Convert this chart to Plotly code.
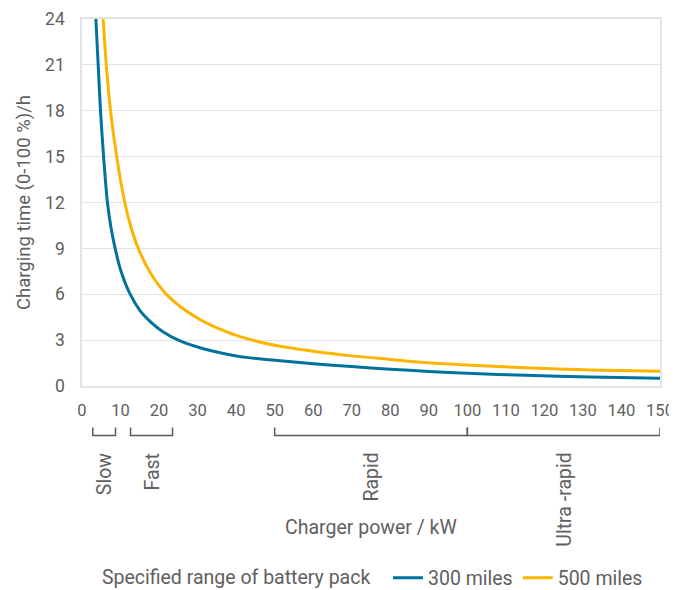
import plotly.graph_objects as go

# ---- data ----
power_300 = [3.6, 4.2, 4.8, 5.6, 6.6, 7.5, 8.6, 10, 12.3, 15, 18, 21, 25, 30, 35, 41, 50, 60, 70, 80, 90, 100, 115, 132, 150]
time_300 = [24, 21, 18, 15, 12, 10.4, 9.0, 7.6, 6.1, 4.95, 4.15, 3.55, 3.0, 2.55, 2.22, 1.92, 1.68, 1.46, 1.27, 1.10, 0.95, 0.83, 0.70, 0.59, 0.51]

power_500 = [5.5, 6.3, 7.4, 9.0, 11.1, 12.7, 14.6, 17.5, 21.5, 26, 30.6, 35, 41, 50, 60, 70, 80, 90, 100, 115, 132, 150]
time_500 = [24, 21, 18, 15, 12, 10.4, 9.0, 7.5, 6.1, 5.1, 4.35, 3.8, 3.23, 2.66, 2.27, 1.97, 1.74, 1.52, 1.37, 1.19, 1.05, 0.96]

series_names = ["300 miles", "500 miles"]
legend_title = "Specified range of battery pack"

x_ticks = list(range(0, 151, 10))
y_ticks = list(range(0, 25, 3))

charger_classes = ["Slow", "Fast", "Rapid", "Ultra -rapid"]
class_start = [2.8, 12.6, 50, 100]
class_end = [8.7, 23.5, 100, 150]

x_title = "Charger power / kW"
y_title = "Charging time (0-100 %)/h"

# ---- styling ----
FONT = "Roboto"
TXT = "#606060"
GRID = "#e3e3e3"
BLUE = "#00729b"
ORANGE = "#fcb400"
BRACKET = "#595959"
LABEL_SIZE = 19.5
TICK_SIZE = 16.5

fig = go.Figure()
fig.add_trace(go.Scatter(x=power_300, y=time_300, mode="lines", name=series_names[0],
                         line=dict(color=BLUE, width=3, shape="spline", smoothing=0.8)))
fig.add_trace(go.Scatter(x=power_500, y=time_500, mode="lines", name=series_names[1],
                         line=dict(color=ORANGE, width=3, shape="spline", smoothing=0.8)))

# page pixels -> paper coordinate (plot area from page y 19.3 to 386)
def py(pixel_y):
    return (386 - pixel_y) / 367

shapes = []
annotations = []
for name, s, e in zip(charger_classes, class_start, class_end):
    shapes.append(dict(type="path", xref="x", yref="paper",
                       path=f"M {s},{py(427.5)} L {s},{py(435.5)} L {e},{py(435.5)} L {e},{py(427.5)}",
                       line=dict(color=BRACKET, width=1.5)))
    annotations.append(dict(text=name, x=(s + e) / 2, xref="x", y=py(451), yref="paper",
                            textangle=-90, xanchor="center", yanchor="top", showarrow=False,
                            font=dict(family=FONT, size=LABEL_SIZE, color=TXT)))

annotations.append(dict(text=x_title, x=0.5, xref="paper", y=py(527), yref="paper",
                        xanchor="center", yanchor="middle", showarrow=False,
                        font=dict(family=FONT, size=LABEL_SIZE, color=TXT)))

# page has an 8px body margin, so the figure is 669x582 and offsets are reduced by 8
fig.update_layout(
    width=669, height=582,
    margin=dict(l=74, r=17, t=11, b=204, autoexpand=False),
    paper_bgcolor="white", plot_bgcolor="white",
    font=dict(family=FONT, size=TICK_SIZE, color=TXT),
    shapes=shapes, annotations=annotations,
    legend=dict(orientation="h", x=0.505, xanchor="center", y=py(578), yanchor="middle",
                title=dict(text=legend_title + "  ", side="left", font=dict(size=LABEL_SIZE, color=TXT)),
                font=dict(family=FONT, size=LABEL_SIZE, color=TXT), itemwidth=30, tracegroupgap=0),
    showlegend=True,
)
fig.update_xaxes(range=[0, 150], tickvals=x_ticks, showgrid=False, zeroline=False,
                 showline=True, mirror=True, linecolor=GRID, linewidth=1.5,
                 ticks="", ticklabelstandoff=8, ticklabeloverflow="allow",
                 tickfont=dict(size=TICK_SIZE, color=TXT))
fig.update_yaxes(range=[0, 24], tickvals=y_ticks, showgrid=True, gridcolor=GRID, gridwidth=1.2,
                 zeroline=False, showline=True, mirror=True, linecolor=GRID, linewidth=1.5,
                 ticks="", ticklabelstandoff=12, tickfont=dict(size=17.5, color=TXT),
                 title=dict(text=y_title, standoff=10, font=dict(size=18.5, color=TXT)))

fig.write_html("out.html")
